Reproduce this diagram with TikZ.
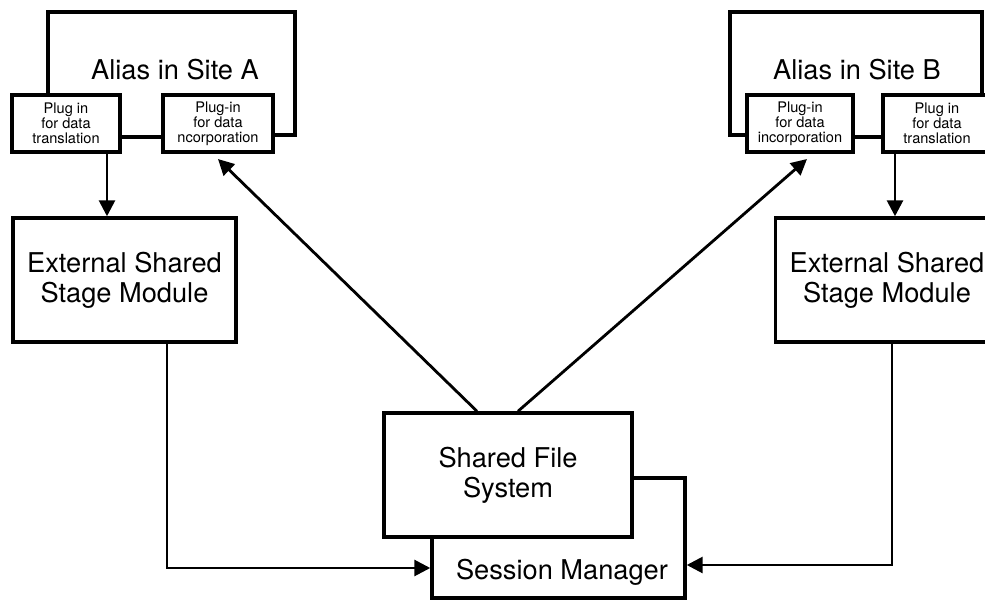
\documentclass[tikz,border=0pt]{standalone}
\usepackage{fontspec}
\setmainfont{TeX Gyre Heros}
\usetikzlibrary{arrows.meta}

\begin{document}
\begin{tikzpicture}[x=0.02cm,y=-0.02cm,
	box/.style={draw,line width=2pt,fill=white,align=center,inner sep=0pt},
	plugbox/.style={box,minimum width=2.16cm,minimum height=1.14cm,font=\fontsize{8.3}{8.5}\selectfont},
	bigbox/.style={box,minimum width=4.46cm,minimum height=2.48cm,font=\fontsize{15.5}{17}\selectfont},
	bigtxt/.style={font=\fontsize{15.5}{17}\selectfont},
	frame/.style={line width=2pt},
	flow/.style={line width=1.6pt,-{Triangle[length=9pt,width=9pt]}}]

	\useasboundingbox (0,0) rectangle (985,602);

	\coordinate (A1) at (48,12);
	\coordinate (A2) at (295,12);
	\coordinate (A3) at (295,135);

	\coordinate (B1) at (730,12);
	\coordinate (B2) at (982,12);
	\coordinate (B3) at (730,135);

	\coordinate (LK) at (0,137);
	\coordinate (dA) at (107,0);
	\coordinate (dB) at (895,0);
	\coordinate (rA) at (167,568);
	\coordinate (rB) at (892,565);



	\node[plugbox] (transA) at (66,123.5) {Plug in\\for data\\translation};
	\node[plugbox,minimum width=2.2cm] (incA) at (218,123.5) {Plug-in\\for data\\ncorporation};
	\node[plugbox,minimum width=2.12cm] (incB) at (800,123.5) {Plug-in\\for data\\incorporation};
	\node[plugbox] (transB) at (937,123.5) {Plug in\\for data\\translation};

	\node[bigtxt] (aliasA) at (175,70) {Alias in Site A};
	\node[bigtxt] (aliasB) at (857,70) {Alias in Site B};

	\node[bigbox] (esmA) at (124.5,280) {External Shared\\Stage Module};
	\node[bigbox] (esmB) at (887,280) {External Shared\\Stage Module};

	\node[bigbox,minimum width=5.06cm,minimum height=2.4cm] (sm) at (558.5,538) {};
	\node[bigbox,minimum width=4.96cm] (sfs) at (508,475) {Shared File\\System};
	\node[bigtxt] (smtext) at (562,572) {Session Manager};



	\draw[frame] (transA.north -| A1) -- (A1) -- (A2) -- (A3) -- (A3 -| incA.east);
	\draw[frame] (B3 -| incB.west) -- (B3) -- (B1) -- (B2) -- (B2 |- transB.north);

	\draw[frame] (LK -| transA.east) -- (LK -| incA.west);
	\draw[frame] (LK -| incB.east) -- (LK -| transB.west);

	\draw[flow] (transA.south -| dA) -- (esmA.north -| dA);
	\draw[flow] (transB.south -| dB) -- (esmB.north -| dB);

	\draw[flow] (esmA.south -| rA) -- (rA) -- (sm.west |- rA);
	\draw[flow] (esmB.south -| rB) -- (rB) -- (sm.east |- rB);

	\draw[flow] ([xshift=-0.62cm]sfs.north) -- ([yshift=-3pt]incA.south);
	\draw[flow] ([xshift=0.2cm]sfs.north) -- ([shift={(0.14cm,-3pt)}]incB.south);

\end{tikzpicture}
\end{document}
